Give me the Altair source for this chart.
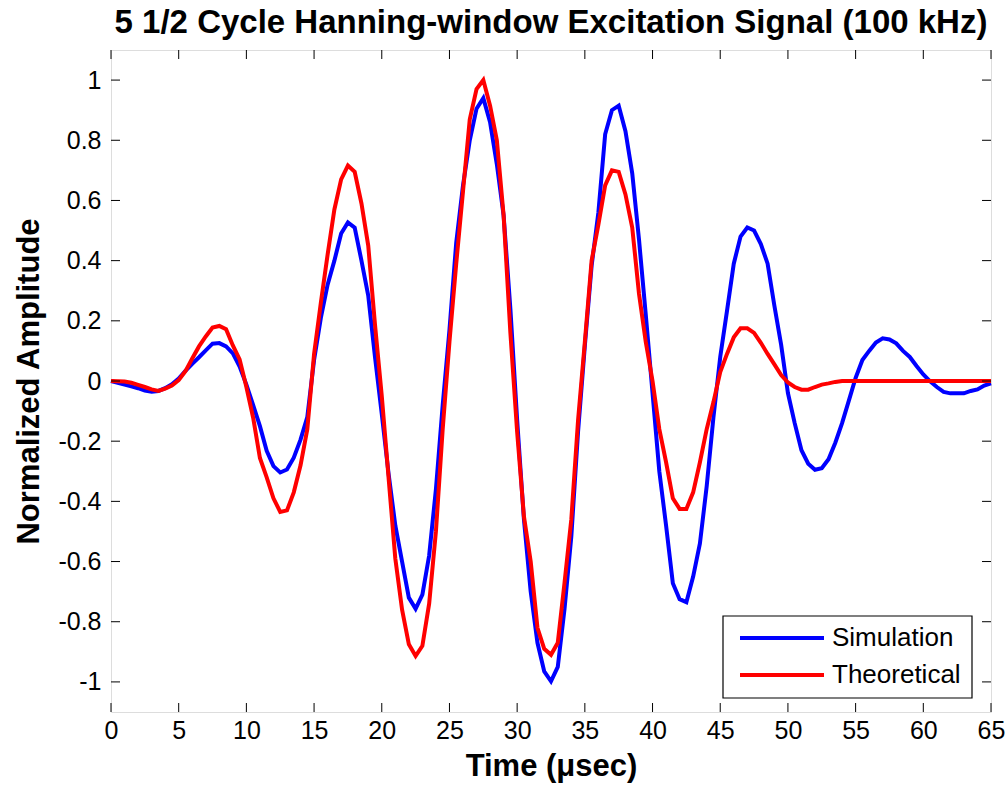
import altair as alt
import pandas as pd

# time axis (microseconds), sampled every 0.5 us from 0 to 65
time_us = [i * 0.5 for i in range(131)]

simulation = [
    0.0, -0.006, -0.012, -0.018, -0.024, -0.032, -0.036, -0.033, -0.024, -0.011,
    0.008, 0.034, 0.057, 0.079, 0.102, 0.124, 0.126, 0.115, 0.092, 0.048,
    -0.012, -0.08, -0.15, -0.232, -0.283, -0.304, -0.294, -0.255, -0.195, -0.12,
    0.07, 0.21, 0.32, 0.40, 0.49, 0.527, 0.51, 0.40, 0.284, 0.08,
    -0.11, -0.307, -0.48, -0.60, -0.72, -0.757, -0.71, -0.58, -0.36, -0.08,
    0.17, 0.46, 0.65, 0.80, 0.905, 0.94, 0.86, 0.72, 0.55, 0.24,
    -0.13, -0.46, -0.70, -0.87, -0.965, -0.998, -0.95, -0.757, -0.517, -0.167,
    0.117, 0.383, 0.56, 0.82, 0.90, 0.915, 0.83, 0.69, 0.47, 0.22,
    -0.04, -0.30, -0.48, -0.672, -0.725, -0.735, -0.65, -0.54, -0.35, -0.12,
    0.08, 0.233, 0.39, 0.48, 0.51, 0.50, 0.455, 0.39, 0.25, 0.12,
    -0.04, -0.14, -0.23, -0.275, -0.295, -0.29, -0.26, -0.205, -0.14, -0.065,
    0.01, 0.07, 0.10, 0.128, 0.142, 0.138, 0.125, 0.10, 0.08, 0.05,
    0.022, -0.001, -0.02, -0.036, -0.041, -0.041, -0.041, -0.033, -0.028, -0.015,
    -0.008,
]

theoretical = [
    0.0, -0.001, -0.002, -0.006, -0.013, -0.02, -0.028, -0.033, -0.025, -0.015,
    0.003, 0.033, 0.075, 0.115, 0.148, 0.178, 0.183, 0.172, 0.118, 0.072,
    -0.02, -0.122, -0.256, -0.32, -0.39, -0.435, -0.43, -0.37, -0.28, -0.16,
    0.09, 0.26, 0.42, 0.57, 0.67, 0.716, 0.695, 0.59, 0.45, 0.187,
    -0.05, -0.32, -0.59, -0.76, -0.875, -0.914, -0.88, -0.74, -0.5, -0.16,
    0.13, 0.39, 0.63, 0.87, 0.97, 1.0, 0.915, 0.80, 0.55, 0.16,
    -0.17, -0.45, -0.6, -0.82, -0.89, -0.91, -0.87, -0.67, -0.46, -0.13,
    0.13, 0.40, 0.52, 0.65, 0.70, 0.695, 0.62, 0.51, 0.29, 0.13,
    0.0, -0.16, -0.27, -0.39, -0.425, -0.425, -0.37, -0.27, -0.16, -0.07,
    0.03, 0.09, 0.145, 0.175, 0.175, 0.16, 0.127, 0.09, 0.055, 0.02,
    -0.005, -0.02, -0.029, -0.029, -0.02, -0.012, -0.008, -0.003, 0.0, 0.0,
    0.0, 0.0, 0.0, 0.0, 0.0, 0.0, 0.0, 0.0, 0.0, 0.0,
    0.0, 0.0, 0.0, 0.0, 0.0, 0.0, 0.0, 0.0, 0.0, 0.0,
    0.0,
]

series_names = ["Simulation", "Theoretical"]
series_colors = ["#0000FF", "#FF0000"]

x_ticks = [0, 5, 10, 15, 20, 25, 30, 35, 40, 45, 50, 55, 60, 65]
y_ticks = [-1, -0.8, -0.6, -0.4, -0.2, 0, 0.2, 0.4, 0.6, 0.8, 1]

W, H = 880, 662
FONT = "Liberation Sans"
LW = 4

df_sim = pd.DataFrame({"t": time_us, "v": simulation})
df_th = pd.DataFrame({"t": time_us, "v": theoretical})

xscale = alt.Scale(domain=[0, 65], nice=False, zero=False)
yscale = alt.Scale(domain=[-1.1, 1.1], nice=False, zero=False)

xaxis = alt.Axis(values=x_ticks, ticks=False, tickSize=0, domain=False, grid=False,
                 labelFont=FONT, labelFontSize=25, labelColor="black", labelPadding=6,
                 titleFont=FONT, titleFontSize=31, titleFontWeight="bold", titleColor="black",
                 titlePadding=8, labelFlush=False)
yaxis = alt.Axis(values=y_ticks, ticks=False, tickSize=0, domain=False, grid=False,
                 labelFont=FONT, labelFontSize=25, labelColor="black", labelPadding=10,
                 titleFont=FONT, titleFontSize=31, titleFontWeight="bold", titleColor="black",
                 titlePadding=12, labelFlush=False,
                 labelExpr="datum.value < 0 ? '-' + format(-datum.value, '~g') : format(datum.value, '~g')")

sim_line = alt.Chart(df_sim).mark_line(color=series_colors[0], strokeWidth=LW).encode(
    x=alt.X("t:Q", scale=xscale, axis=xaxis, title="Time (μsec)"),
    y=alt.Y("v:Q", scale=yscale, axis=yaxis, title="Normalized Amplitude"),
)
th_line = alt.Chart(df_th).mark_line(color=series_colors[1], strokeWidth=LW).encode(
    x=alt.X("t:Q", scale=xscale, axis=xaxis, title="Time (μsec)"),
    y=alt.Y("v:Q", scale=yscale, axis=yaxis, title="Normalized Amplitude"),
)

df_xt = pd.DataFrame({"t": x_ticks})
df_yt = pd.DataFrame({"v": y_ticks})
TL = 9
tick_layers = [
    alt.Chart(df_xt).mark_rule(color="black", strokeWidth=1).encode(
        x=alt.X("t:Q", scale=xscale, axis=xaxis, title="Time (μsec)"), y=alt.value(0), y2=alt.value(TL)),
    alt.Chart(df_xt).mark_rule(color="black", strokeWidth=1).encode(
        x=alt.X("t:Q", scale=xscale, axis=xaxis, title="Time (μsec)"), y=alt.value(H), y2=alt.value(H - TL)),
    alt.Chart(df_yt).mark_rule(color="black", strokeWidth=1).encode(
        y=alt.Y("v:Q", scale=yscale, axis=yaxis, title="Normalized Amplitude"), x=alt.value(0), x2=alt.value(TL)),
    alt.Chart(df_yt).mark_rule(color="black", strokeWidth=1).encode(
        y=alt.Y("v:Q", scale=yscale, axis=yaxis, title="Normalized Amplitude"), x=alt.value(W), x2=alt.value(W - TL)),
]

# manual legend (MATLAB style box)
LX0, LX1, LY0, LY1 = 612, 861, 566, 648
legend_box = alt.Chart(pd.DataFrame({"a": [0]})).mark_rect(
    fill="white", stroke="black", strokeWidth=1.2).encode(
    x=alt.value(LX0), x2=alt.value(LX1), y=alt.value(LY0), y2=alt.value(LY1))
legend_layers = [legend_box]
row_y = [588, 625]
for name, color, ry in zip(series_names, series_colors, row_y):
    ldf = pd.DataFrame({"label": [name]})
    legend_layers.append(
        alt.Chart(ldf).mark_rule(color=color, strokeWidth=LW).encode(
            x=alt.value(629), x2=alt.value(713), y=alt.value(ry)))
    legend_layers.append(
        alt.Chart(ldf).mark_text(align="left", baseline="middle", font=FONT, fontSize=26,
                                 color="black").encode(
            text="label:N", x=alt.value(721), y=alt.value(ry)))

chart = alt.layer(sim_line, th_line, *tick_layers, *legend_layers).properties(
    width=W, height=H,
    title=alt.Title("5 1/2 Cycle Hanning-window Excitation Signal (100 kHz)",
                    font=FONT, fontSize=33, fontWeight="bold", color="black",
                    anchor="middle", offset=10),
    autosize=alt.AutoSizeParams(type="none"),
    padding={"left": 111, "top": 50, "right": 16, "bottom": 76},
).configure_view(stroke="black", strokeWidth=1.5).configure(background="white")

chart.save("out.html", embed_options={"renderer": "svg", "actions": False})
